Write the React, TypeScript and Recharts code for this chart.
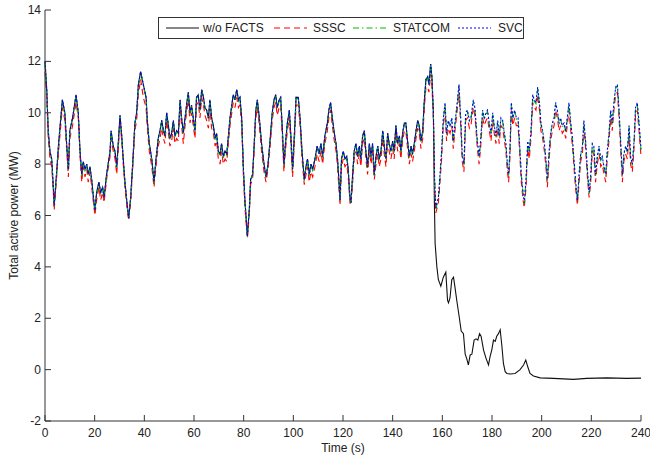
import React from "react";
import { LineChart, Line, XAxis, YAxis, Legend } from "recharts";

// time axis (s) shared by the three FACTS cases
const time = [
  0, 0.7, 1.3, 2.0, 2.7, 3.3, 3.7, 4.7, 5.4, 6.0,
  7.0, 8.0, 8.7, 9.4, 10.0, 11.1, 12.5, 13.4, 14.1, 14.8,
  15.4, 16.1, 16.8, 17.4, 18.1, 18.8, 19.5, 20.1, 20.8, 21.7,
  22.4, 23.2, 23.8, 24.8, 26.2, 26.6, 27.5, 28.2, 28.9, 29.5,
  30.2, 30.9, 31.5, 32.2, 32.9, 33.7, 34.5, 35.3, 36.2, 36.9,
  37.6, 38.5, 39.6, 40.7, 41.2, 42.0, 43.0, 43.9, 44.7, 45.6,
  46.3, 47.0, 47.7, 48.3, 49.0, 49.7, 50.3, 51.0, 51.7, 52.3,
  53.0, 53.7, 54.4, 55.0, 55.7, 56.4, 57.0, 57.7, 58.4, 59.0,
  59.7, 60.4, 61.0, 61.7, 62.4, 63.1, 63.8, 64.4, 65.1, 65.8,
  66.4, 67.1, 67.8, 68.5, 69.1, 69.8, 70.5, 71.1, 71.8, 72.5,
  73.2, 74.5, 75.8, 76.5, 77.2, 77.9, 78.5, 79.2, 79.9, 80.5,
  81.5, 82.3, 82.8, 83.6, 84.1, 84.9, 85.5, 86.3, 87.2, 88.2,
  89.0, 89.8, 90.6, 91.5, 92.2, 92.9, 93.5, 94.3, 94.9, 95.5,
  96.2, 96.9, 97.6, 98.4, 99.0, 99.7, 100.4, 101.1, 102.0, 102.7,
  103.5, 104.4, 105.1, 105.7, 106.4, 107.1, 107.8, 108.7, 109.6, 110.4,
  111.1, 111.8, 112.7, 113.7, 114.3, 115.0, 115.7, 116.5, 117.2, 117.8,
  118.4, 118.8, 119.4, 120.1, 120.8, 121.5, 122.1, 122.8, 123.2, 123.9,
  124.5, 125.2, 125.9, 126.6, 127.2, 127.9, 128.6, 129.2, 129.9, 130.6,
  131.3, 131.9, 132.6, 133.3, 134.0, 134.6, 135.3, 136.0, 136.6, 137.3,
  138.0, 138.6, 139.3, 140.0, 140.6, 141.3, 142.0, 142.7, 143.3, 144.0,
  144.7, 145.3, 146.0, 146.7, 147.4, 148.0, 148.7, 149.4, 150.1, 150.7,
  151.4, 152.1, 152.7, 153.4, 154.1, 154.6, 155.3, 155.8, 156.4, 156.9,
  157.4, 158.4, 159.0, 159.7, 160.4, 161.1, 161.7, 162.4, 163.1, 163.8,
  164.4, 165.1, 166.0, 166.7, 167.4, 168.0, 168.7, 169.4, 170.1, 170.9,
  171.5, 172.5, 173.1, 174.1, 174.8, 175.4, 176.2, 176.9, 177.6, 178.2,
  178.9, 179.6, 180.3, 180.9, 181.6, 182.3, 182.9, 183.6, 184.3, 185.0,
  185.6, 186.2, 186.7, 187.2, 187.8, 188.4, 189.1, 189.8, 190.5, 191.1,
  191.8, 192.5, 193.0, 193.7, 194.4, 195.0, 195.7, 196.4, 197.0, 197.7,
  198.4, 199.1, 199.7, 200.4, 201.1, 201.7, 202.3, 203.0, 203.6, 204.3,
  205.0, 205.6, 206.3, 207.0, 207.6, 208.3, 209.0, 209.7, 210.3, 211.0,
  211.7, 212.3, 213.0, 213.7, 214.4, 215.0, 215.7, 216.4, 217.0, 217.7,
  218.4, 219.1, 219.7, 220.4, 221.0, 221.7, 222.4, 223.1, 223.8, 224.4,
  225.1, 225.8, 226.4, 227.1, 227.8, 228.4, 229.1, 229.8, 230.5, 231.1,
  231.8, 232.5, 233.1, 233.8, 234.5, 235.2, 235.8, 236.5, 237.2, 237.8,
  238.5, 239.2, 240.0,
];

// SVC (MW)
const svc = [
  12.0, 10.9, 9.3, 8.5, 8.2, 7.2, 6.4, 7.7, 8.7, 9.4,
  10.5, 10.0, 8.8, 7.8, 9.3, 9.8, 10.7, 10.0, 8.5, 7.6,
  8.1, 7.8, 8.0, 7.6, 7.9, 7.4, 6.7, 6.2, 6.9, 7.3,
  6.9, 7.1, 6.7, 7.6, 8.5, 9.3, 8.7, 8.5, 7.9, 8.8,
  9.9, 9.1, 8.2, 7.3, 6.6, 5.9, 6.7, 8.0, 9.6, 10.0,
  11.1, 11.6, 11.1, 10.6, 9.7, 8.8, 8.2, 7.3, 8.2, 9.0,
  9.3, 9.7, 9.3, 9.1, 10.0, 9.5, 9.0, 9.2, 9.7, 9.1,
  9.3, 9.2, 10.5, 9.8, 9.2, 9.8, 10.3, 10.8, 10.0, 10.3,
  9.8, 9.3, 10.6, 10.7, 10.1, 10.9, 10.6, 10.2, 10.1, 9.8,
  10.5, 9.8, 9.5, 9.0, 9.2, 8.5, 8.4, 8.8, 8.3, 8.5,
  8.4, 9.8, 10.7, 10.5, 10.9, 10.5, 10.6, 9.8, 7.8, 6.6,
  5.2, 6.3, 7.4, 7.6, 8.5, 10.1, 10.5, 9.8, 8.8, 8.0,
  7.5, 8.0, 8.9, 10.0, 10.5, 10.7, 10.2, 10.5, 10.6, 9.5,
  8.0, 8.9, 9.6, 10.1, 9.1, 7.8, 9.1, 10.6, 10.6, 9.8,
  8.5, 7.4, 7.9, 8.2, 7.6, 8.0, 7.8, 8.2, 8.7, 8.4,
  8.8, 8.3, 9.1, 9.6, 10.1, 10.4, 9.8, 9.2, 8.8, 8.2,
  7.3, 6.6, 8.2, 8.5, 8.2, 8.3, 7.8, 6.7, 6.5, 7.6,
  8.5, 8.8, 8.3, 8.7, 8.2, 9.1, 9.3, 8.5, 7.9, 8.8,
  8.3, 8.8, 7.6, 8.3, 8.7, 8.2, 8.5, 9.3, 8.7, 8.2,
  9.2, 8.8, 8.5, 8.9, 8.5, 9.5, 8.8, 9.1, 8.5, 9.2,
  9.6, 9.6, 8.9, 8.3, 8.7, 8.4, 8.8, 9.3, 9.7, 9.5,
  8.9, 9.3, 10.4, 11.3, 11.4, 11.1, 11.9, 11.4, 10.0, 7.4,
  6.3, 6.7, 7.5, 8.5, 9.8, 10.4, 9.2, 9.7, 9.5, 9.8,
  8.9, 9.6, 10.4, 11.1, 9.8, 8.4, 8.0, 10.0, 10.1, 9.7,
  9.8, 10.5, 10.2, 8.9, 8.3, 8.9, 10.1, 9.8, 10.0, 10.1,
  9.6, 9.2, 10.0, 9.5, 9.1, 9.7, 9.1, 9.8, 9.7, 9.2,
  8.8, 8.0, 7.6, 8.5, 10.4, 9.8, 10.1, 9.8, 9.8, 8.8,
  7.6, 6.9, 6.5, 7.4, 8.9, 8.5, 9.3, 10.7, 10.5, 10.4,
  11.0, 10.4, 9.6, 9.3, 8.8, 8.2, 7.4, 8.5, 9.2, 9.6,
  9.8, 10.4, 10.1, 9.6, 9.8, 9.5, 9.6, 9.3, 9.8, 10.4,
  9.6, 9.1, 8.2, 7.3, 6.6, 7.5, 8.4, 8.7, 9.7, 8.9,
  7.8, 6.9, 7.5, 8.8, 8.7, 7.6, 8.3, 8.7, 8.2, 8.3,
  7.9, 7.6, 8.5, 9.2, 10.1, 9.6, 10.4, 11.0, 11.1, 10.2,
  8.9, 7.6, 8.4, 8.7, 8.5, 9.5, 8.3, 8.0, 8.9, 10.2,
  10.4, 9.6, 8.6,
];

// STATCOM (MW), sits just under SVC
const statcom = [
  11.95, 10.85, 9.25, 8.45, 8.15, 7.15, 6.35, 7.65, 8.65, 9.35,
  10.45, 9.95, 8.75, 7.75, 9.25, 9.75, 10.65, 9.95, 8.45, 7.55,
  8.05, 7.75, 7.95, 7.55, 7.85, 7.35, 6.65, 6.15, 6.85, 7.25,
  6.85, 7.05, 6.65, 7.55, 8.45, 9.25, 8.65, 8.45, 7.85, 8.75,
  9.85, 9.05, 8.15, 7.25, 6.55, 5.85, 6.65, 7.95, 9.55, 9.95,
  11.05, 11.55, 11.05, 10.55, 9.65, 8.75, 8.15, 7.25, 8.15, 8.95,
  9.25, 9.65, 9.25, 9.05, 9.95, 9.45, 8.95, 9.15, 9.65, 9.05,
  9.25, 9.15, 10.45, 9.75, 9.15, 9.75, 10.25, 10.75, 9.95, 10.25,
  9.75, 9.25, 10.55, 10.65, 10.05, 10.85, 10.55, 10.15, 10.05, 9.75,
  10.45, 9.75, 9.45, 8.95, 9.15, 8.45, 8.35, 8.75, 8.25, 8.45,
  8.35, 9.75, 10.65, 10.45, 10.85, 10.45, 10.55, 9.75, 7.75, 6.55,
  5.15, 6.25, 7.35, 7.55, 8.45, 10.05, 10.45, 9.75, 8.75, 7.95,
  7.45, 7.95, 8.85, 9.95, 10.45, 10.65, 10.15, 10.45, 10.55, 9.45,
  7.95, 8.85, 9.55, 10.05, 9.05, 7.75, 9.05, 10.55, 10.55, 9.75,
  8.45, 7.35, 7.85, 8.15, 7.55, 7.95, 7.75, 8.15, 8.65, 8.35,
  8.75, 8.25, 9.05, 9.55, 10.05, 10.35, 9.75, 9.15, 8.75, 8.15,
  7.25, 6.55, 8.15, 8.45, 8.15, 8.25, 7.75, 6.65, 6.45, 7.55,
  8.45, 8.75, 8.25, 8.65, 8.15, 9.05, 9.25, 8.45, 7.85, 8.75,
  8.25, 8.75, 7.55, 8.25, 8.65, 8.15, 8.45, 9.25, 8.65, 8.15,
  9.15, 8.75, 8.45, 8.85, 8.45, 9.45, 8.75, 9.05, 8.45, 9.15,
  9.55, 9.55, 8.85, 8.25, 8.65, 8.35, 8.75, 9.25, 9.65, 9.45,
  8.85, 9.25, 10.35, 11.25, 11.35, 11.05, 11.85, 11.35, 9.95, 7.35,
  6.25, 6.65, 7.45, 8.45, 9.75, 10.35, 9.15, 9.65, 9.45, 9.75,
  8.85, 9.55, 10.35, 11.05, 9.75, 8.35, 7.95, 9.95, 10.05, 9.65,
  9.75, 10.45, 10.15, 8.85, 8.25, 8.85, 10.05, 9.75, 9.95, 10.05,
  9.55, 9.15, 9.95, 9.45, 9.05, 9.65, 9.05, 9.75, 9.65, 9.15,
  8.75, 7.95, 7.55, 8.45, 10.35, 9.75, 10.05, 9.75, 9.75, 8.75,
  7.55, 6.85, 6.45, 7.35, 8.85, 8.45, 9.25, 10.65, 10.45, 10.35,
  10.95, 10.35, 9.55, 9.25, 8.75, 8.15, 7.35, 8.45, 9.15, 9.55,
  9.75, 10.35, 10.05, 9.55, 9.75, 9.45, 9.55, 9.25, 9.75, 10.35,
  9.55, 9.05, 8.15, 7.25, 6.55, 7.45, 8.35, 8.65, 9.65, 8.85,
  7.75, 6.85, 7.45, 8.75, 8.65, 7.55, 8.25, 8.65, 8.15, 8.25,
  7.85, 7.55, 8.45, 9.15, 10.05, 9.55, 10.35, 10.95, 11.05, 10.15,
  8.85, 7.55, 8.35, 8.65, 8.45, 9.45, 8.25, 7.95, 8.85, 10.15,
  10.35, 9.55, 8.55,
];

// SSSC (MW), slightly lower than the others
const sssc = [
  11.6, 10.6, 9.0, 8.2, 7.9, 7.0, 6.2, 7.5, 8.4, 9.1,
  10.2, 9.7, 8.6, 7.5, 9.0, 9.5, 10.4, 9.8, 8.3, 7.3,
  7.9, 7.5, 7.8, 7.3, 7.7, 7.1, 6.5, 6.0, 6.6, 7.1,
  6.6, 6.9, 6.5, 7.4, 8.3, 9.0, 8.5, 8.2, 7.6, 8.6,
  9.6, 8.9, 8.0, 7.1, 6.4, 5.8, 6.5, 7.8, 9.3, 9.7,
  10.7, 11.3, 10.6, 10.2, 9.4, 8.5, 7.9, 7.1, 7.9, 8.7,
  9.0, 9.4, 9.0, 8.8, 9.7, 9.2, 8.7, 8.9, 9.4, 8.8,
  9.0, 8.9, 10.2, 9.5, 8.8, 9.5, 10.0, 10.5, 9.6, 10.0,
  9.5, 9.0, 10.3, 10.4, 9.8, 10.6, 10.3, 9.9, 9.7, 9.4,
  10.2, 9.4, 9.2, 8.7, 8.9, 8.2, 8.0, 8.5, 8.0, 8.2,
  8.1, 9.5, 10.4, 10.2, 10.6, 10.2, 10.3, 9.5, 7.5, 6.3,
  5.1, 6.1, 7.2, 7.4, 8.3, 9.8, 10.2, 9.5, 8.5, 7.7,
  7.3, 7.8, 8.6, 9.7, 10.2, 10.4, 9.9, 10.2, 10.3, 9.2,
  7.7, 8.6, 9.3, 9.8, 8.8, 7.5, 8.8, 10.3, 10.3, 9.5,
  8.2, 7.2, 7.6, 7.9, 7.3, 7.7, 7.5, 7.9, 8.4, 8.1,
  8.5, 8.0, 8.8, 9.3, 9.8, 10.1, 9.5, 8.9, 8.5, 7.9,
  7.0, 6.4, 7.9, 8.2, 7.9, 8.0, 7.5, 6.5, 6.4, 7.3,
  8.2, 8.5, 8.0, 8.4, 7.9, 8.8, 9.0, 8.2, 7.6, 8.5,
  8.0, 8.5, 7.4, 8.0, 8.4, 7.9, 8.2, 9.0, 8.4, 7.9,
  8.9, 8.5, 8.2, 8.6, 8.2, 9.2, 8.5, 8.8, 8.2, 8.9,
  9.3, 9.3, 8.6, 8.0, 8.4, 8.1, 8.5, 9.0, 9.4, 9.2,
  8.6, 9.0, 10.1, 11.0, 11.0, 10.8, 11.5, 11.1, 9.7, 7.2,
  6.1, 6.5, 7.2, 8.2, 9.5, 10.1, 8.9, 9.4, 9.2, 9.5,
  8.6, 9.3, 10.1, 10.8, 9.5, 8.1, 7.7, 9.7, 9.8, 9.4,
  9.5, 10.2, 9.9, 8.6, 8.0, 8.6, 9.8, 9.5, 9.7, 9.8,
  9.3, 8.9, 9.7, 9.2, 8.8, 9.4, 8.8, 9.5, 9.4, 8.9,
  8.5, 7.7, 7.3, 8.2, 10.1, 9.5, 9.8, 9.5, 9.5, 8.5,
  7.3, 6.6, 6.3, 7.1, 8.6, 8.2, 9.0, 10.4, 10.2, 10.1,
  10.7, 10.1, 9.3, 9.0, 8.5, 7.9, 7.1, 8.2, 8.9, 9.3,
  9.5, 10.1, 9.8, 9.3, 9.5, 9.2, 9.3, 9.0, 9.5, 10.1,
  9.3, 8.8, 7.9, 7.0, 6.4, 7.2, 8.1, 8.4, 9.4, 8.6,
  7.5, 6.7, 7.2, 8.5, 8.4, 7.3, 8.0, 8.4, 7.9, 8.0,
  7.6, 7.3, 8.2, 8.9, 9.8, 9.3, 10.1, 10.7, 10.8, 9.9,
  8.6, 7.3, 8.1, 8.4, 8.2, 9.2, 8.0, 7.7, 8.6, 9.9,
  10.1, 9.3, 8.3,
];

// w/o FACTS: same as the others until the fault (first 219 time points)
const woFactsHead = [
  12.0, 10.9, 9.3, 8.5, 8.2, 7.2, 6.4, 7.7, 8.7, 9.4,
  10.5, 10.0, 8.8, 7.8, 9.3, 9.8, 10.7, 10.0, 8.5, 7.6,
  8.1, 7.8, 8.0, 7.6, 7.9, 7.4, 6.7, 6.2, 6.9, 7.3,
  6.9, 7.1, 6.7, 7.6, 8.5, 9.3, 8.7, 8.5, 7.9, 8.8,
  9.9, 9.1, 8.2, 7.3, 6.6, 5.9, 6.7, 8.0, 9.6, 10.0,
  11.1, 11.6, 11.1, 10.6, 9.7, 8.8, 8.2, 7.3, 8.2, 9.0,
  9.3, 9.7, 9.3, 9.1, 10.0, 9.5, 9.0, 9.2, 9.7, 9.1,
  9.3, 9.2, 10.5, 9.8, 9.2, 9.8, 10.3, 10.8, 10.0, 10.3,
  9.8, 9.3, 10.6, 10.7, 10.1, 10.9, 10.6, 10.2, 10.1, 9.8,
  10.5, 9.8, 9.5, 9.0, 9.2, 8.5, 8.4, 8.8, 8.3, 8.5,
  8.4, 9.8, 10.7, 10.5, 10.9, 10.5, 10.6, 9.8, 7.8, 6.6,
  5.2, 6.3, 7.4, 7.6, 8.5, 10.1, 10.5, 9.8, 8.8, 8.0,
  7.5, 8.0, 8.9, 10.0, 10.5, 10.7, 10.2, 10.5, 10.6, 9.5,
  8.0, 8.9, 9.6, 10.1, 9.1, 7.8, 9.1, 10.6, 10.6, 9.8,
  8.5, 7.4, 7.9, 8.2, 7.6, 8.0, 7.8, 8.2, 8.7, 8.4,
  8.8, 8.3, 9.1, 9.6, 10.1, 10.4, 9.8, 9.2, 8.8, 8.2,
  7.3, 6.6, 8.2, 8.5, 8.2, 8.3, 7.8, 6.7, 6.5, 7.6,
  8.5, 8.8, 8.3, 8.7, 8.2, 9.1, 9.3, 8.5, 7.9, 8.8,
  8.3, 8.8, 7.6, 8.3, 8.7, 8.2, 8.5, 9.3, 8.7, 8.2,
  9.2, 8.8, 8.5, 8.9, 8.5, 9.5, 8.8, 9.1, 8.5, 9.2,
  9.6, 9.6, 8.9, 8.3, 8.7, 8.4, 8.8, 9.3, 9.7, 9.5,
  8.9, 9.3, 10.4, 11.3, 11.4, 11.1, 11.9, 11.4, 10.0,
];

// w/o FACTS after the collapse
const woFactsTailTime = [
  156.8, 157.1, 157.8, 158.4, 159.4, 160.4, 161.4, 162.1, 162.5, 163.1,
  163.8, 164.5, 165.1, 165.8, 166.8, 167.6, 168.5, 169.2, 169.8, 170.5,
  171.2, 171.9, 172.8, 173.6, 174.3, 175.0, 175.6, 176.6, 177.6, 178.6,
  179.2, 179.9, 180.6, 181.3, 181.9, 182.6, 183.3, 184.0, 184.6, 185.3,
  186.0, 187.3, 189.3, 191.3, 192.7, 193.6, 194.4, 195.3, 196.7, 199.4,
  204.7, 212.8, 218.2, 226.2, 234.3, 240.0,
];
const woFactsTail = [
  6.5, 4.9, 4.0, 3.5, 3.25, 3.6, 3.8, 2.7, 2.6, 2.8,
  3.5, 3.6, 3.2, 2.7, 2.05, 1.5, 1.4, 0.6, 0.44, 0.18,
  0.57, 0.6, 1.15, 1.2, 1.15, 1.4, 1.3, 0.76, 0.44, 0.18,
  0.5, 0.76, 1.15, 1.1, 1.3, 1.4, 1.55, 0.9, 0.24, -0.08,
  -0.15, -0.17, -0.15, 0.0, 0.18, 0.37, 0.11, -0.15, -0.25, -0.32,
  -0.34, -0.38, -0.34, -0.32, -0.34, -0.33,
];

const xTicks = [0, 20, 40, 60, 80, 100, 120, 140, 160, 180, 200, 220, 240];
const yTicks = [-2, 0, 2, 4, 6, 8, 10, 12, 14];
const seriesNames = ["w/o FACTS", "SSSC", "STATCOM", "SVC"];

const factsData = time.map((t, i) => ({ t, sssc: sssc[i], statcom: statcom[i], svc: svc[i] }));
const woFactsData = [
  ...woFactsHead.map((p, i) => ({ t: time[i], p })),
  ...woFactsTailTime.map((t, i) => ({ t, p: woFactsTail[i] })),
];

const FONT = "Arial, 'Liberation Sans', Helvetica, sans-serif";
const AXIS = "#333";
const TEXT = "#222";
const TICK = 6;

// matlab-ish inward ticks on all four sides
const BottomTick = ({ x, y, payload }: any) => (
  <g>
    <line x1={x} y1={y} x2={x} y2={y - TICK} stroke={AXIS} />
    <text x={x} y={y + 16} textAnchor="middle" fontSize={12} fontFamily={FONT} fill={TEXT}>
      {payload.value}
    </text>
  </g>
);
const TopTick = ({ x, y }: any) => <line x1={x} y1={y} x2={x} y2={y + TICK} stroke={AXIS} />;
const LeftTick = ({ x, y, payload }: any) => (
  <g>
    <line x1={x} y1={y} x2={x + TICK} y2={y} stroke={AXIS} />
    <text x={x - 4} y={y + 4} textAnchor="end" fontSize={12} fontFamily={FONT} fill={TEXT}>
      {payload.value}
    </text>
  </g>
);
const RightTick = ({ x, y }: any) => <line x1={x} y1={y} x2={x - TICK} y2={y} stroke={AXIS} />;

const legendStyles = [
  { color: "#111", dash: undefined, sx: 7, tx: 44 },
  { color: "#ff0000", dash: "6 4", sx: 115, tx: 154 },
  { color: "#00bb00", dash: "6 3 1.5 3", sx: 194, tx: 234 },
  { color: "#0000ff", dash: "2 2", sx: 299, tx: 339 },
];

const LegendBox = () => (
  <div
    style={{
      position: "relative",
      width: 366,
      height: 22,
      boxSizing: "border-box",
      border: `1px solid ${AXIS}`,
      background: "#fff",
      fontFamily: FONT,
      fontSize: 12,
      color: TEXT,
    }}
  >
    {seriesNames.map((name, i) => {
      const s = legendStyles[i];
      return (
        <React.Fragment key={name}>
          <svg width={33} height={10} style={{ position: "absolute", left: s.sx, top: 5 }}>
            <line x1={0} y1={5} x2={33} y2={5} stroke={s.color} strokeWidth={1.2} strokeDasharray={s.dash} />
          </svg>
          <span style={{ position: "absolute", left: s.tx, top: 2, lineHeight: "16px", whiteSpace: "nowrap" }}>
            {name}
          </span>
        </React.Fragment>
      );
    })}
  </div>
);

export default function App() {
  return (
    <div style={{ position: "absolute", left: 0, top: 0, width: 650, height: 459, background: "#fff" }}>
      <LineChart
        width={650}
        height={459}
        data={factsData}
        margin={{ top: 10, right: 9, bottom: 0, left: 0 }}
        style={{ fontFamily: FONT }}
      >
        <XAxis
          dataKey="t"
          type="number"
          domain={[0, 240]}
          ticks={xTicks}
          interval={0}
          height={38}
          tickSize={0}
          tickMargin={0}
          tickLine={false}
          stroke={AXIS}
          tick={(p: any) => <BottomTick {...p} />}
          label={{ value: "Time (s)", position: "insideBottom", offset: 7, style: { fontSize: 12, fill: TEXT, fontFamily: FONT } }}
        />
        <XAxis
          xAxisId="top"
          orientation="top"
          type="number"
          domain={[0, 240]}
          ticks={xTicks}
          interval={0}
          height={0}
          tickSize={0}
          tickMargin={0}
          tickLine={false}
          stroke={AXIS}
          allowDataOverflow
          tick={(p: any) => <TopTick {...p} />}
        />
        <YAxis
          type="number"
          domain={[-2, 14]}
          ticks={yTicks}
          interval={0}
          width={45}
          tickSize={0}
          tickMargin={0}
          tickLine={false}
          stroke={AXIS}
          allowDataOverflow
          tick={(p: any) => <LeftTick {...p} />}
          label={{
            value: "Total active power (MW)",
            angle: -90,
            position: "insideLeft",
            offset: 14,
            style: { textAnchor: "middle", fontSize: 12, fill: TEXT, fontFamily: FONT },
          }}
        />
        <YAxis
          yAxisId="right"
          orientation="right"
          type="number"
          domain={[-2, 14]}
          ticks={yTicks}
          interval={0}
          width={0}
          tickSize={0}
          tickMargin={0}
          tickLine={false}
          stroke={AXIS}
          allowDataOverflow
          tick={(p: any) => <RightTick {...p} />}
        />
        <Legend
          layout="horizontal"
          verticalAlign="middle"
          align="center"
          wrapperStyle={{ left: 158, top: 17, width: 366, height: 22 }}
          content={() => <LegendBox />}
        />
        <Line
          data={woFactsData}
          dataKey="p"
          name={seriesNames[0]}
          type="linear"
          stroke="#111"
          strokeWidth={1.1}
          dot={false}
          isAnimationActive={false}
        />
        <Line
          dataKey="sssc"
          name={seriesNames[1]}
          type="linear"
          stroke="#ff0000"
          strokeWidth={1.1}
          strokeDasharray="6 4"
          dot={false}
          isAnimationActive={false}
        />
        <Line
          dataKey="statcom"
          name={seriesNames[2]}
          type="linear"
          stroke="#00bb00"
          strokeWidth={1.1}
          strokeDasharray="6 3 1.5 3"
          dot={false}
          isAnimationActive={false}
        />
        <Line
          dataKey="svc"
          name={seriesNames[3]}
          type="linear"
          stroke="#0000ff"
          strokeWidth={1.1}
          strokeDasharray="2 2"
          dot={false}
          isAnimationActive={false}
        />
      </LineChart>
    </div>
  );
}
